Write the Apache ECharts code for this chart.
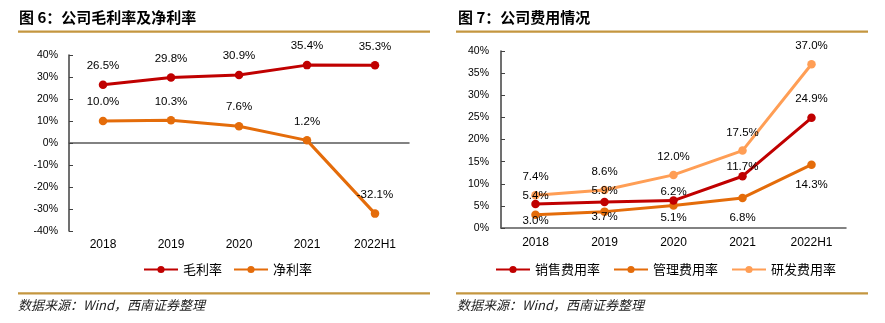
<!DOCTYPE html>
<html><head><meta charset="utf-8">
<script src="https://cdn.jsdelivr.net/npm/echarts@6/dist/echarts.min.js"></script>
<style>html,body{margin:0;padding:0;background:#fff}#c{width:885px;height:323px}</style>
</head><body><div id="c"></div>
<script>
// ---- data ----
const categories = ['2018', '2019', '2020', '2021', '2022H1'];
const grossMargin = [26.5, 29.8, 30.9, 35.4, 35.3];   // 毛利率
const netMargin = [10.0, 10.3, 7.6, 1.2, -32.1];      // 净利率
const salesExpense = [5.4, 5.9, 6.2, 11.7, 24.9];     // 销售费用率
const adminExpense = [3.0, 3.7, 5.1, 6.8, 14.3];      // 管理费用率
const rdExpense = [7.4, 8.6, 12.0, 17.5, 37.0];       // 研发费用率
const leftYTicks = [-40, -30, -20, -10, 0, 10, 20, 30, 40];
const rightYTicks = [0, 5, 10, 15, 20, 25, 30, 35, 40];

// ---- label vertical offsets (style) ----
const dyGross = [-19, -19, -19, -19, -19];
const dyNet = [-19, -19, -19, -19, -19];
const dySales = [-8, -11, -9, -9, -19];
const dyAdmin = [6, 5, 12, 20, 20];
const dyRd = [-18, -18, -18, -18, -18];

const RED = '#C00000', ORANGE = '#E46C0A', LIGHT = '#FF9E55', GOLD = '#C4963F';
const NUMFONT = "'Liberation Sans', Arial, sans-serif";
const CJK = "'Noto Sans CJK SC', sans-serif";

function mkData(vals, dys) {
  return vals.map((v, i) => ({ value: v, label: { offset: [0, dys[i]] } }));
}
function mkSeries(name, vals, dys, color, xi, yi) {
  return {
    name, type: 'line', xAxisIndex: xi, yAxisIndex: yi,
    data: mkData(vals, dys),
    symbol: 'circle', symbolSize: 8.5,
    lineStyle: { color, width: 3 },
    itemStyle: { color },
    label: {
      show: true, position: 'inside', color: '#000',
      fontFamily: NUMFONT, fontSize: 11.5,
      formatter: p => p.value.toFixed(1) + '%'
    },
    emphasis: { disabled: true },
    animation: false
  };
}
function mkLegend(name, left) {
  return {
    data: [name], left, top: 263, itemWidth: 34, itemHeight: 9, padding: 0,
    textStyle: { fontFamily: CJK, fontSize: 13, color: '#000' },
    selectedMode: false
  };
}
const yLabel = { color: '#000', fontFamily: NUMFONT, fontSize: 10.5, formatter: '{value}%', margin: 11 };
const xLabel = { color: '#000', fontFamily: NUMFONT, fontSize: 12 };

const option = {
  backgroundColor: '#fff',
  animation: false,
  grid: [
    { left: 69, top: 55, width: 340, height: 176 },
    { left: 501, top: 51, width: 345, height: 177 }
  ],
  xAxis: [
    { type: 'category', gridIndex: 0, data: categories,
      axisLine: { show: false, onZero: false }, axisTick: { show: false },
      axisLabel: Object.assign({ margin: 8 }, xLabel) },
    { type: 'category', gridIndex: 0, data: categories, position: 'bottom',
      axisLine: { show: true, onZero: true, lineStyle: { color: '#595959', width: 1.5 } },
      axisTick: { show: false }, axisLabel: { show: false } },
    { type: 'category', gridIndex: 1, data: categories,
      axisLine: { show: true, lineStyle: { color: '#595959', width: 1.5 } },
      axisTick: { show: false },
      axisLabel: Object.assign({ margin: 9 }, xLabel) }
  ],
  yAxis: [
    { type: 'value', gridIndex: 0, min: leftYTicks[0], max: leftYTicks[leftYTicks.length - 1],
      interval: leftYTicks[1] - leftYTicks[0],
      axisLine: { show: true, lineStyle: { color: '#404040', width: 1.5 } },
      axisTick: { show: true, inside: true, length: 4, lineStyle: { color: '#404040' } },
      splitLine: { show: false }, axisLabel: yLabel },
    { type: 'value', gridIndex: 1, min: rightYTicks[0], max: rightYTicks[rightYTicks.length - 1],
      interval: rightYTicks[1] - rightYTicks[0],
      axisLine: { show: true, lineStyle: { color: '#404040', width: 1.5 } },
      axisTick: { show: true, inside: true, length: 4, lineStyle: { color: '#404040' } },
      splitLine: { show: false }, axisLabel: Object.assign({}, yLabel, { margin: 12 }) }
  ],
  legend: [
    mkLegend('毛利率', 143), mkLegend('净利率', 233),
    mkLegend('销售费用率', 495), mkLegend('管理费用率', 613), mkLegend('研发费用率', 731)
  ],
  series: [
    mkSeries('毛利率', grossMargin, dyGross, RED, 0, 0),
    mkSeries('净利率', netMargin, dyNet, ORANGE, 0, 0),
    mkSeries('研发费用率', rdExpense, dyRd, LIGHT, 2, 1),
    mkSeries('管理费用率', adminExpense, dyAdmin, ORANGE, 2, 1),
    mkSeries('销售费用率', salesExpense, dySales, RED, 2, 1)
  ],
  graphic: [
    { type: 'text', left: 19, top: 10, style: { text: '图 6：公司毛利率及净利率', font: "bold 15px 'Noto Sans CJK SC', sans-serif", fill: '#000' } },
    { type: 'text', left: 458, top: 10, style: { text: '图 7：公司费用情况', font: "bold 15px 'Noto Sans CJK SC', sans-serif", fill: '#000' } },
    { type: 'rect', shape: { x: 18, y: 30.5, width: 412, height: 2.2 }, style: { fill: GOLD } },
    { type: 'rect', shape: { x: 456, y: 30.5, width: 412, height: 2.2 }, style: { fill: GOLD } },
    { type: 'rect', shape: { x: 18, y: 292.3, width: 412, height: 2.2 }, style: { fill: GOLD } },
    { type: 'rect', shape: { x: 456, y: 292.3, width: 412, height: 2.2 }, style: { fill: GOLD } },
    { type: 'text', left: 18, top: 299, style: { text: '数据来源：Wind，西南证券整理', font: "italic 13px 'Noto Sans CJK SC', sans-serif", fill: '#222' } },
    { type: 'text', left: 457, top: 299, style: { text: '数据来源：Wind，西南证券整理', font: "italic 13px 'Noto Sans CJK SC', sans-serif", fill: '#222' } }
  ]
};
const chart = echarts.init(document.getElementById('c'), null, { renderer: 'canvas' });
chart.setOption(option);
</script></body></html>
